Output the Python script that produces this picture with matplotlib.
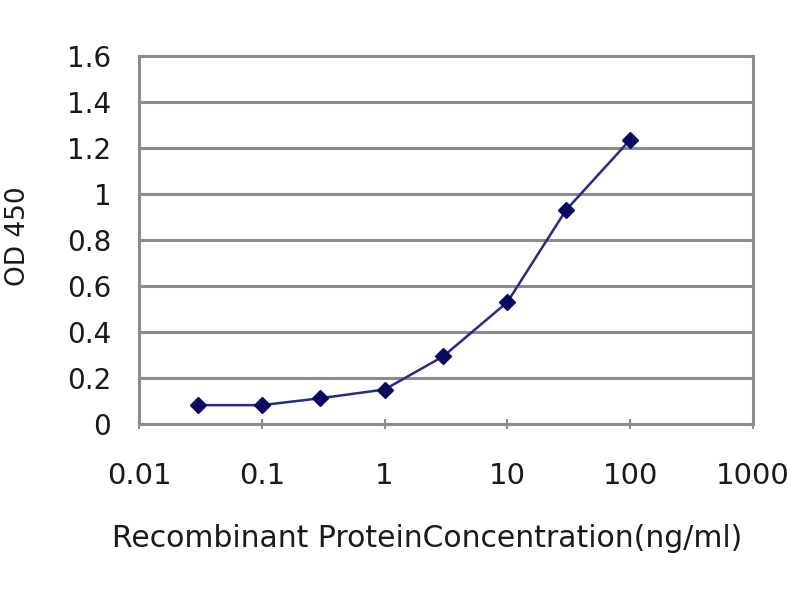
import matplotlib
matplotlib.use("Agg")
import matplotlib.pyplot as plt
from matplotlib.ticker import FixedLocator, FixedFormatter, NullLocator

# data
concentration = [0.03, 0.1, 0.3, 1, 3, 10, 30, 100]
od450 = [0.082, 0.082, 0.112, 0.150, 0.294, 0.530, 0.930, 1.236]
x_ticks = [0.01, 0.1, 1, 10, 100, 1000]
x_tick_labels = ["0.01", "0.1", "1", "10", "100", "1000"]
y_ticks = [0, 0.2, 0.4, 0.6, 0.8, 1.0, 1.2, 1.4, 1.6]
y_tick_labels = ["0", "0.2", "0.4", "0.6", "0.8", "1", "1.2", "1.4", "1.6"]

plt.rcParams['font.family'] = ['DejaVu Sans']
text_color = "#1a1a1a"
grid_color = "#8c8c8c"

fig = plt.figure(figsize=(8, 6), dpi=100)
fig.patch.set_facecolor("white")
ax = fig.add_axes([139/800, 1 - 424/600, (753 - 139)/800, (424 - 56)/600])

ax.set_xscale("log")
ax.set_xlim(0.01, 1000)
ax.set_ylim(0, 1.6)

ax.plot(concentration, od450, color="#2a2a8a", lw=1.8, marker="D",
        markersize=8.5, markerfacecolor="#0a0a60", markeredgecolor="#0a0a60",
        zorder=3, clip_on=False)

ax.xaxis.set_major_locator(FixedLocator(x_ticks))
ax.xaxis.set_major_formatter(FixedFormatter(x_tick_labels))
ax.xaxis.set_minor_locator(NullLocator())
ax.yaxis.set_major_locator(FixedLocator(y_ticks))
ax.yaxis.set_major_formatter(FixedFormatter(y_tick_labels))
ax.yaxis.set_minor_locator(NullLocator())

for y in y_ticks[1:-1]:
    ax.axhline(y, color=grid_color, lw=2.2, zorder=1)

for s in ax.spines.values():
    s.set_color(grid_color)
    s.set_linewidth(2.2)

ax.tick_params(axis="x", direction="inout", length=7, width=1.5,
               color=grid_color, pad=24, labelsize=21, labelcolor=text_color)
ax.tick_params(axis="y", length=0, pad=20, labelsize=20, labelcolor=text_color)

fig.text(18/800, 1 - 236/600, "OD 450", rotation=90, ha="center", va="center",
         fontsize=19, color=text_color)
fig.text(427/800, 1 - 547/600, "Recombinant ProteinConcentration(ng/ml)",
         ha="center", va="baseline", fontsize=21.5, color=text_color)

fig.savefig("out.png", dpi=100, facecolor="white")
